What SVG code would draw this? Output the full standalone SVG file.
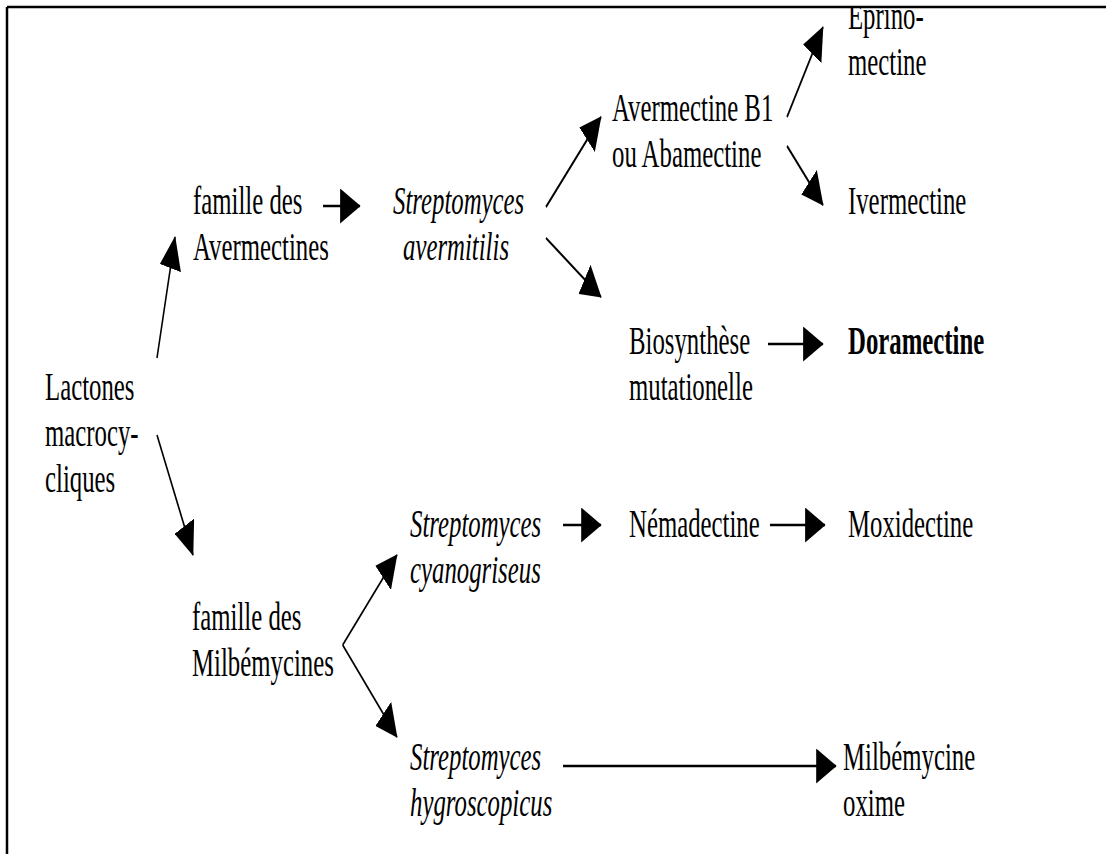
<svg xmlns="http://www.w3.org/2000/svg" width="1106" height="854" viewBox="0 0 1106 854">
<style>
text{font-family:"Liberation Serif","Times New Roman",serif;font-size:40px;fill:#000}
.it{font-style:italic}
.bd{font-weight:bold}
.c{fill:none;stroke:#000;stroke-width:2.5}
</style>
<defs>
<marker id="ah" markerUnits="userSpaceOnUse" markerWidth="33" markerHeight="35" viewBox="0 0 33 35" refX="32" refY="17.5" orient="auto"><path d="M0,0 L33,17.5 L0,35 z" fill="#000"/></marker>
</defs>
<rect width="1106" height="854" fill="#fff"/>
<g transform="scale(0.62 1)">
<g id="n-lactones"><text x="72.6" y="400">Lactones</text><text x="72.6" y="446">macrocy-</text><text x="72.6" y="492">cliques</text></g>
<g id="n-avermectines"><text x="311.3" y="214">famille des</text><text x="311.3" y="260">Avermectines</text></g>
<g id="n-savermitilis"><text class="it" x="633.9" y="214">Streptomyces</text><text class="it" x="650" y="260">avermitilis</text></g>
<g id="n-avermectineb1"><text x="987.1" y="121">Avermectine B1</text><text x="987.1" y="167">ou Abamectine</text></g>
<g id="n-eprino"><text x="1367.7" y="29">Eprino-</text><text x="1367.7" y="75">mectine</text></g>
<g id="n-ivermectine"><text x="1367.7" y="214">Ivermectine</text></g>
<g id="n-biosynthese"><text x="1014.5" y="354">Biosynthèse</text><text x="1014.5" y="400">mutationelle</text></g>
<g id="n-doramectine"><text class="bd" x="1367.7" y="354">Doramectine</text></g>
<g id="n-milbemycines"><text x="309.7" y="630">famille des</text><text x="309.7" y="676">Milbémycines</text></g>
<g id="n-scyanogriseus"><text class="it" x="661.3" y="537">Streptomyces</text><text class="it" x="661.3" y="583">cyanogriseus</text></g>
<g id="n-nemadectine"><text x="1014.5" y="537">Némadectine</text></g>
<g id="n-moxidectine"><text x="1367.7" y="537">Moxidectine</text></g>
<g id="n-shygroscopicus"><text class="it" x="661.3" y="770">Streptomyces</text><text class="it" x="661.3" y="816">hygroscopicus</text></g>
<g id="n-milbemycineoxime"><text x="1359.7" y="770">Milbémycine</text><text x="1359.7" y="816">oxime</text></g>
<g id="connectors">
<path class="c" marker-end="url(#ah)" d="M253.2,358 L282.3,237"/>
<path class="c" marker-end="url(#ah)" d="M253.2,435 L311.3,555"/>
<path class="c" marker-end="url(#ah)" d="M521,206 L580.6,206"/>
<path class="c" marker-end="url(#ah)" d="M880.6,207 L969.4,117"/>
<path class="c" marker-end="url(#ah)" d="M880.6,238 L969.4,297"/>
<path class="c" marker-end="url(#ah)" d="M1269.4,117 L1327.4,27"/>
<path class="c" marker-end="url(#ah)" d="M1269.4,146 L1327.4,205"/>
<path class="c" marker-end="url(#ah)" d="M1238.7,344 L1327.4,344"/>
<path class="c" marker-end="url(#ah)" d="M552.7,645 L640.3,555"/>
<path class="c" marker-end="url(#ah)" d="M552.7,645 L640.3,737"/>
<path class="c" marker-end="url(#ah)" d="M908.1,525 L969.4,525"/>
<path class="c" marker-end="url(#ah)" d="M1241.9,525 L1330.6,525"/>
<path class="c" marker-end="url(#ah)" d="M908.1,766 L1348.4,766"/>
</g>
</g>
<rect x="0" y="0" width="1106" height="7" fill="#fff"/>
<path d="M7,7 H1106 M7,7 V854" fill="none" stroke="#000" stroke-width="2.5"/>
</svg>
